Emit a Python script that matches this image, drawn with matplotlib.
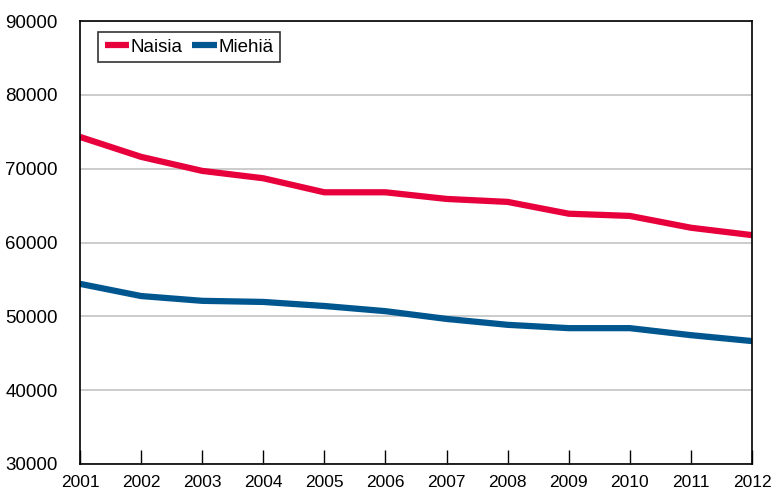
import matplotlib
matplotlib.use("Agg")
import matplotlib.pyplot as plt

# data
years = [2001, 2002, 2003, 2004, 2005, 2006, 2007, 2008, 2009, 2010, 2011, 2012]
naisia = [74300, 71600, 69700, 68700, 66800, 66800, 65900, 65500, 63900, 63600, 62000, 61000]
miehia = [54400, 52750, 52100, 51950, 51400, 50700, 49650, 48850, 48400, 48400, 47450, 46650]
yticks = [30000, 40000, 50000, 60000, 70000, 80000, 90000]

RED = "#e8003c"
BLUE = "#00578f"

plt.rcParams['font.family'] = ['Liberation Sans', 'DejaVu Sans']

fig = plt.figure(figsize=(7.76, 4.93), dpi=100)
ax = fig.add_axes([80/776, 29/493, 672/776, 443/493])

ax.plot(years, naisia, color=RED, lw=4.5, label="Naisia", solid_capstyle='butt')
ax.plot(years, miehia, color=BLUE, lw=4.5, label="Miehiä", solid_capstyle='butt')

ax.set_xlim(2001, 2012)
ax.set_ylim(30000, 90000)
ax.set_yticks(yticks)
ax.set_yticklabels([str(v) for v in yticks], fontsize=13.5)
ax.set_xticks(years)
ax.set_xticklabels([str(y) for y in years], fontsize=12.5)

ax.grid(axis='y', color='#c8c8c8', lw=1.3)
ax.set_axisbelow(True)
ax.tick_params(axis='y', length=0, pad=16)
ax.tick_params(axis='x', direction='in', length=10, width=1, pad=8)
for s in ax.spines.values():
    s.set_color('black')
    s.set_linewidth(1.2)

leg = ax.legend(loc='upper left', bbox_to_anchor=(98/776, 1 - 32/493),
                bbox_transform=fig.transFigure, ncol=2, fontsize=13.5,
                frameon=True, fancybox=False, borderaxespad=0,
                handlelength=1.3, handletextpad=0.1, columnspacing=0.5,
                borderpad=0.35)
leg.get_frame().set_edgecolor('black')
leg.get_frame().set_linewidth(1.2)

fig.savefig("out.png", dpi=100)
